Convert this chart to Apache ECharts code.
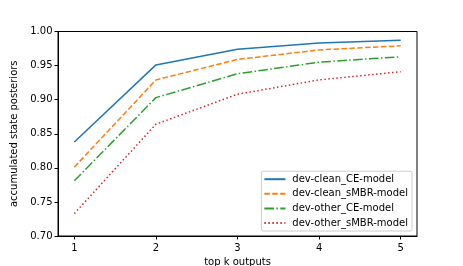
<!DOCTYPE html>
<html><head><meta charset="utf-8">
<script src="https://cdn.jsdelivr.net/npm/echarts@6/dist/echarts.min.js"></script>
<style>html,body{margin:0;padding:0;background:#fff}#c{width:463px;height:266px}</style>
</head><body><div id="c"></div>
<script>
const topK = [1, 2, 3, 4, 5];
const yTicks = [0.70, 0.75, 0.80, 0.85, 0.90, 0.95, 1.00];
const devCleanCE = [0.838, 0.951, 0.974, 0.983, 0.987];
const devCleanSMBR = [0.801, 0.929, 0.959, 0.973, 0.979];
const devOtherCE = [0.781, 0.903, 0.938, 0.955, 0.963];
const devOtherSMBR = [0.733, 0.864, 0.908, 0.929, 0.941];
const seriesNames = ['dev-clean_CE-model', 'dev-clean_sMBR-model', 'dev-other_CE-model', 'dev-other_sMBR-model'];
const seriesData = [devCleanCE, devCleanSMBR, devOtherCE, devOtherSMBR];
const colors = ['#1f77b4', '#ff7f0e', '#2ca02c', '#d62728'];
const dashes = ['solid', [5.5, 2.4], [9.6, 2.4, 1.5, 2.4], [1.5, 2.5]];
const font = 'DejaVu Sans';

const chart = echarts.init(document.getElementById('c'), null, {renderer: 'canvas'});
chart.setOption({
  animation: false,
  textStyle: {fontFamily: font},
  grid: {left: 58, right: 46, top: 31.5, bottom: 30, show: true, borderColor: '#000', borderWidth: 1, backgroundColor: 'transparent', containLabel: false, outerBoundsMode: 'none'},
  xAxis: {
    type: 'value', min: 0.8, max: 5.2,
    name: 'top k outputs', nameLocation: 'middle', nameGap: 19.5,
    nameTextStyle: {fontFamily: font, fontSize: 10, color: '#000'},
    axisLine: {show: true, lineStyle: {color: '#000', width: 1}},
    axisTick: {show: true, inside: false, length: 3.5, lineStyle: {color: '#000'}, customValues: topK},
    axisLabel: {fontFamily: font, fontSize: 10, color: '#000', margin: 7, customValues: topK, formatter: v => String(v)},
    splitLine: {show: false}
  },
  yAxis: {
    type: 'value', min: 0.70, max: 1.00, interval: 0.05,
    name: 'accumulated state posteriors', nameLocation: 'middle', nameGap: 33,
    nameTextStyle: {fontFamily: font, fontSize: 10, color: '#000'},
    axisLine: {show: true, lineStyle: {color: '#000', width: 1}},
    axisTick: {show: true, inside: false, length: 3.5, lineStyle: {color: '#000'}, customValues: yTicks},
    axisLabel: {fontFamily: font, fontSize: 10, color: '#000', margin: 5.5, customValues: yTicks, formatter: v => v.toFixed(2)},
    splitLine: {show: false}
  },
  legend: {
    orient: 'vertical', right: 51, bottom: 35,
    itemWidth: 21, itemHeight: 10, itemGap: 4.6,
    padding: [3, 4, 3, 2],
    backgroundColor: 'rgba(255,255,255,0.8)',
    borderColor: '#cccccc', borderWidth: 1, borderRadius: 2,
    itemStyle: {opacity: 0},
    textStyle: {fontFamily: font, fontSize: 10, color: '#000', padding: [0, 0, 0, 2]},
    data: seriesNames
  },
  series: seriesNames.map((n, i) => ({
    name: n, type: 'line', symbol: 'none', showSymbol: false,
    data: topK.map((k, j) => [k, seriesData[i][j]]),
    lineStyle: {color: colors[i], width: 1.5, type: dashes[i]},
    itemStyle: {color: colors[i]},
    z: 2
  }))
});
</script></body></html>
